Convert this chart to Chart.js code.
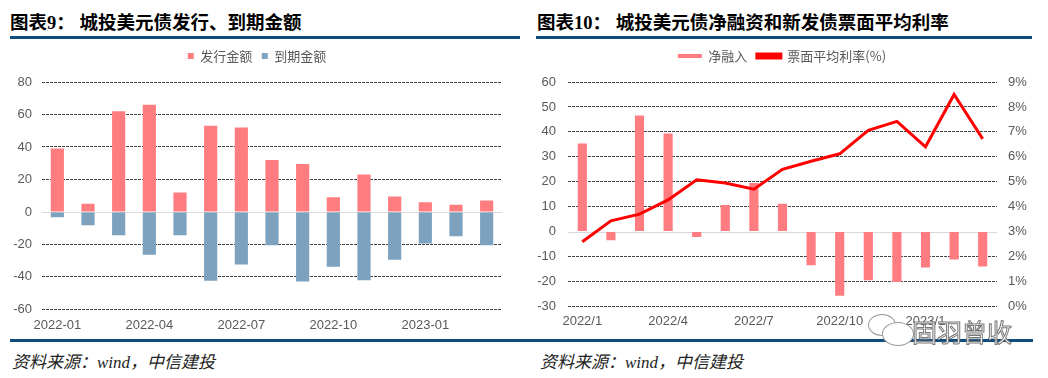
<!DOCTYPE html>
<html>
<head>
<meta charset="utf-8">
<script src="https://cdn.jsdelivr.net/npm/chart.js@4/dist/chart.umd.min.js"></script>
<style>
  body { margin: 0; width: 1048px; height: 378px; background: #fff; position: relative; overflow: hidden; }
  .title { position: absolute; top: 8px; font-family: "Liberation Serif", "Noto Sans CJK SC", serif; font-weight: bold; font-size: 18.5px; color: #000; white-space: nowrap; }
  .title span { font-family: "Noto Sans CJK SC", sans-serif; }
  .rule { position: absolute; height: 3px; background: #0f4c7e; }
  .source { position: absolute; top: 348px; font-family: "Liberation Serif", "Noto Sans CJK SC", serif; font-style: italic; font-size: 17px; color: #222; white-space: nowrap; }
  canvas { position: absolute; }
  .wm { position: absolute; left: 912px; top: 313px; font-family: "Noto Sans CJK SC", sans-serif; font-size: 25px; color: #fff; -webkit-text-stroke: 1px #777; z-index: 5; }
  .bubble { position: absolute; border: 1px solid #999; background: #fff; border-radius: 50%; z-index: 4; }
</style>
</head>
<body>
<div class="title" style="left:10px">图表9：&nbsp;<span>城投美元债发行、到期金额</span></div>
<div class="title" style="left:537px">图表10：&nbsp;<span>城投美元债净融资和新发债票面平均利率</span></div>
<div class="rule" style="left:10px; width:510px; top:36px"></div>
<div class="rule" style="left:536px; width:496px; top:36px"></div>

<canvas id="issueChart" width="520" height="301" style="left:0; top:40px"></canvas>
<canvas id="netChart" width="523" height="296" style="left:525px; top:40px"></canvas>

<div class="rule" style="left:10px; width:1023px; top:339px"></div>
<div class="source" style="left:12px">资料来源：wind，中信建投</div>
<div class="source" style="left:540px">资料来源：wind，中信建投</div>

<div class="bubble" style="left:868px; top:314px; width:26px; height:20px"></div>
<div class="bubble" style="left:882px; top:322px; width:30px; height:22px"></div>
<div class="wm">固羽曾收</div>

<script>
// Data
let monthsA = ["2022-01", "2022-02", "2022-03", "2022-04", "2022-05", "2022-06", "2022-07", "2022-08",
  "2022-09", "2022-10", "2022-11", "2022-12", "2023-01", "2023-02", "2023-03"];
let monthsB = ["2022/1", "2022/2", "2022/3", "2022/4", "2022/5", "2022/6", "2022/7", "2022/8",
  "2022/9", "2022/10", "2022/11", "2022/12", "2023/1", "2023/2", "2023/3"];
let issued = [39, 5, 62, 66, 12, 53, 52, 32, 29.5, 9, 23, 9.5, 6, 4.5, 7];
let matured = [-3.3, -8.2, -14.4, -26.3, -14.4, -42.3, -32.4, -20.5, -42.9, -33.8, -42.1, -29.5, -19.5, -15, -20.5];
let netFinancing = [35.3, -3.5, 46.6, 39.3, -2.2, 10.7, 19.5, 11.2, -13.5, -25.7, -19.5, -20.2, -14.4, -11.2, -14];
let couponRate = [2.59, 3.43, 3.7, 4.27, 5.08, 4.95, 4.7, 5.5, 5.82, 6.12, 7.06, 7.42, 6.4, 8.5, 6.72];
let ticksA = [-60, -40, -20, 0, 20, 40, 60, 80];
let ticksB = [-30, -20, -10, 0, 10, 20, 30, 40, 50, 60];
let ticksRate = [0, 1, 2, 3, 4, 5, 6, 7, 8, 9];

Chart.defaults.font.family = "'Liberation Sans', Arial, sans-serif";
Chart.defaults.font.size = 13;
Chart.defaults.color = "#595959";
Chart.defaults.animation = false;

// light solid zero line (grid lines are dashed)
const zeroLine = {
  id: "zeroLine",
  beforeDatasetsDraw(chart) {
    let y = Math.round(chart.scales.y.getPixelForValue(0)) + 0.5;
    let ctx = chart.ctx, area = chart.chartArea;
    ctx.save();
    ctx.strokeStyle = "#d9d9d9";
    ctx.lineWidth = 1;
    ctx.beginPath();
    ctx.moveTo(area.left, y);
    ctx.lineTo(area.right, y);
    ctx.stroke();
    ctx.restore();
  }
};

function gridColor(c) {
  return c.tick && c.tick.value === 0 ? "rgba(0,0,0,0)" : "#444";
}

function everyThird(labels) {
  return function(v, i) { return i % 3 === 0 ? labels[i] : ""; };
}

const legendFont = { family: "'Noto Sans CJK SC', sans-serif", size: 13 };
const spacer = { display: true, text: "", font: { size: 1 }, padding: { top: 0, bottom: 8.3 } };

// Left chart: issued / matured
new Chart(document.getElementById("issueChart"), {
  type: "bar",
  data: {
    labels: monthsA,
    datasets: [
      { label: "发行金额", data: issued, backgroundColor: "#ff7c80" },
      { label: "到期金额", data: matured, backgroundColor: "#7da2bf" }
    ]
  },
  options: {
    responsive: false,
    layout: { padding: { left: 12, right: 18, top: 0, bottom: 0 } },
    categoryPercentage: 0.43,
    barPercentage: 1,
    plugins: {
      legend: {
        weight: 2000,
        labels: { boxWidth: 6, boxHeight: 6, padding: 9.5, font: legendFont }
      },
      subtitle: spacer,
      tooltip: { enabled: false }
    },
    scales: {
      x: {
        stacked: true,
        grid: { display: false, drawTicks: false },
        border: { display: false },
        ticks: { autoSkip: false, maxRotation: 0, padding: 8, callback: everyThird(monthsA) }
      },
      y: {
        stacked: true,
        min: -60, max: 80,
        afterBuildTicks: s => { s.ticks = ticksA.map(v => ({ value: v })); },
        afterFit: s => { s.width = 30; },
        grid: { color: gridColor, drawTicks: false },
        border: { display: false, dash: [3, 1] },
        ticks: { padding: 10 }
      }
    }
  },
  plugins: [zeroLine]
});

// Right chart: net financing + coupon rate
new Chart(document.getElementById("netChart"), {
  type: "bar",
  data: {
    labels: monthsB,
    datasets: [
      { type: "line", label: "票面平均利率(%)", data: couponRate, yAxisID: "y1",
        borderColor: "#ff0000", backgroundColor: "#ff0000", borderWidth: 3,
        pointRadius: 0, tension: 0 },
      { label: "净融入", data: netFinancing, yAxisID: "y", backgroundColor: "#ff7c80",
        categoryPercentage: 0.32, barPercentage: 1 }
    ]
  },
  options: {
    responsive: false,
    layout: { padding: { left: 2, right: 11, top: 0, bottom: 0 } },
    plugins: {
      legend: {
        weight: 2000,
        labels: {
          boxWidth: 24, boxHeight: 4, padding: 9.5, font: legendFont,
          sort: (a, b) => b.datasetIndex - a.datasetIndex
        }
      },
      subtitle: spacer,
      tooltip: { enabled: false }
    },
    scales: {
      x: {
        grid: { display: false, drawTicks: false },
        border: { display: false },
        ticks: { autoSkip: false, maxRotation: 0, padding: 7, callback: everyThird(monthsB) }
      },
      y: {
        position: "left",
        min: -30, max: 60,
        afterBuildTicks: s => { s.ticks = ticksB.map(v => ({ value: v })); },
        afterFit: s => { s.width = 41; },
        grid: { color: gridColor, drawTicks: false },
        border: { display: false, dash: [3, 1] },
        ticks: { padding: 12 }
      },
      y1: {
        position: "right",
        min: 0, max: 9,
        afterBuildTicks: s => { s.ticks = ticksRate.map(v => ({ value: v })); },
        afterFit: s => { s.width = 40; },
        grid: { display: false, drawTicks: false },
        border: { display: false },
        ticks: { padding: 11, callback: v => v + "%" }
      }
    }
  },
  plugins: [zeroLine]
});
</script>
</body>
</html>
